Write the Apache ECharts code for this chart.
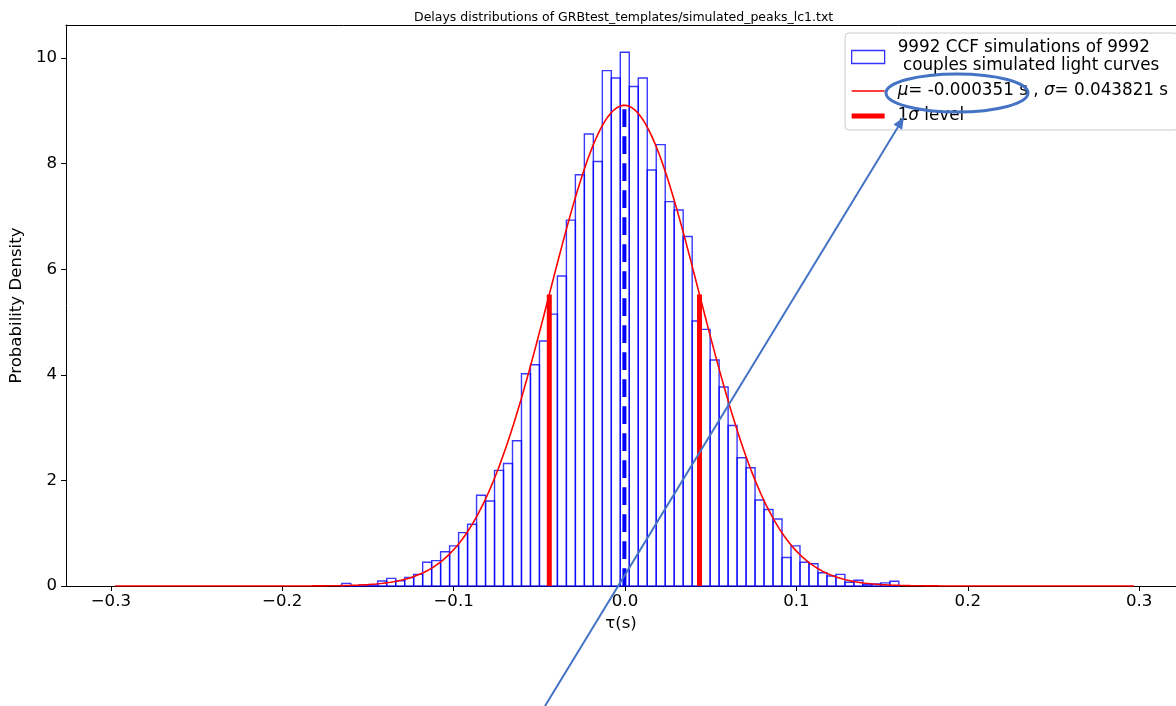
<!DOCTYPE html>
<html><head><meta charset="utf-8">
<script src="https://cdn.jsdelivr.net/npm/echarts@6/dist/echarts.min.js"></script>
<style>html,body{margin:0;padding:0;background:#fff}#c{width:1176px;height:706px}</style>
</head><body><div id="c"></div>
<script>
// ---- data ----
const titleText = 'Delays distributions of GRBtest_templates/simulated_peaks_lc1.txt';
const binStart = -0.16524;   // left edge of first histogram bin (s)
const binWidth = 0.005242;   // bin width (s)
const densities = [
  0.05, 0.0, 0.019, 0.019, 0.095, 0.145, 0.10, 0.16, 0.22, 0.45,
  0.48, 0.65, 0.76, 1.01, 1.17, 1.72, 1.61, 2.19, 2.32, 2.75,
  4.02, 4.19, 4.64, 5.15, 5.87, 6.93, 7.79, 8.56, 8.04, 9.76,
  9.62, 10.11, 9.46, 9.62, 7.88, 8.36, 7.28, 7.12, 6.62, 5.02,
  4.86, 4.28, 3.77, 3.04, 2.43, 2.24, 1.63, 1.45, 1.27, 0.54,
  0.76, 0.45, 0.42, 0.25, 0.19, 0.22, 0.07, 0.11, 0.025, 0.04,
  0.06, 0.09
];
const mu = -0.000351;
const sigma = 0.043821;
const curveRange = [-0.2975, 0.2970];
const curveSamples = 400;
const xTicks = [-0.3, -0.2, -0.1, 0.0, 0.1, 0.2, 0.3];
const yTicks = [0, 2, 4, 6, 8, 10];
const xRange = [-0.32615, 0.3215];
const yRange = [0, 10.625];
const histName = '9992 CCF simulations of 9992\n couples simulated light curves';
const fitName = 'μ= -0.000351 s , σ= 0.043821 s';
const sigName = '1σ level';
const xName = 'τ(s)';
const yName = 'Probability Density';

// ---- derived ----
const FONT = 'DejaVu Sans';
function pdf(x) { const z = (x - mu) / sigma; return Math.exp(-0.5 * z * z) / (sigma * Math.sqrt(2 * Math.PI)); }
const histData = densities.map((h, i) => [binStart + i * binWidth, binStart + (i + 1) * binWidth, h]);
const curveData = [];
for (let i = 0; i < curveSamples; i++) {
  const x = curveRange[0] + (curveRange[1] - curveRange[0]) * i / (curveSamples - 1);
  curveData.push([x, pdf(x)]);
}
const sigmaData = [[mu - sigma, pdf(mu - sigma)], [mu + sigma, pdf(mu + sigma)]];
const meanData = [[mu, 0], [mu, pdf(mu)]];

const chart = echarts.init(document.getElementById('c'), null, {renderer: 'canvas'});
const option = {
  animation: false,
  backgroundColor: '#ffffff',
  textStyle: {fontFamily: FONT},
  title: {
    text: titleText, left: 409, top: 6,
    textStyle: {fontFamily: FONT, fontSize: 12.5, fontWeight: 'normal', color: '#000'}
  },
  grid: {left: 64, top: 25, right: 0, bottom: 120, show: false, containLabel: false},
  xAxis: [{
    type: 'value', min: xRange[0], max: xRange[1], position: 'bottom',
    name: xName, nameLocation: 'middle', nameGap: 26,
    nameTextStyle: {fontFamily: FONT, fontSize: 16.6, color: '#000'},
    axisLine: {show: true, onZero: false, lineStyle: {color: '#000', width: 1}},
    axisTick: {show: true, length: 5, lineStyle: {color: '#000'}, customValues: xTicks},
    axisLabel: {show: true, margin: 7, color: '#000', fontFamily: FONT, fontSize: 16.6, customValues: xTicks,
      formatter: v => (v < 0 ? '\u2212' : '') + Math.abs(v).toFixed(1)},
    splitLine: {show: false}
  }, {
    type: 'value', min: xRange[0], max: xRange[1], position: 'top',
    axisLine: {show: true, onZero: false, lineStyle: {color: '#000', width: 1}},
    axisTick: {show: false}, axisLabel: {show: false}, splitLine: {show: false}
  }],
  yAxis: {
    type: 'value', min: yRange[0], max: yRange[1],
    name: yName, nameLocation: 'middle', nameGap: 27,
    nameTextStyle: {fontFamily: FONT, fontSize: 16.6, color: '#000'},
    axisLine: {show: true, onZero: false, lineStyle: {color: '#000', width: 1}},
    axisTick: {show: true, length: 5, lineStyle: {color: '#000'}, customValues: yTicks},
    axisLabel: {show: true, margin: 9, color: '#000', fontFamily: FONT, fontSize: 16.6, customValues: yTicks,
      formatter: v => String(Math.round(v))},
    splitLine: {show: false}
  },
  legend: {
    orient: 'vertical', left: 845, top: 33, padding: [6, 10, 5, 6],
    itemWidth: 33, itemHeight: 13, itemGap: 7,
    backgroundColor: 'rgba(255,255,255,0.8)', borderColor: '#cccccc', borderWidth: 1, borderRadius: 4,
    selectedMode: false,
    textStyle: {fontFamily: FONT, fontSize: 16.8, color: '#000', lineHeight: 18, padding: [0, 0, 0, 8],
      rich: {i: {fontStyle: 'italic', fontFamily: FONT, fontSize: 16.8, color: '#000', lineHeight: 18}}},
    formatter: name => name.replace(/μ/g, '{i|μ}').replace(/σ/g, '{i|σ}'),
    data: [
      {name: histName, icon: 'rect', itemStyle: {color: '#ffffff', borderColor: 'rgba(0,0,255,0.8)', borderWidth: 1.3}},
      {name: fitName, icon: 'path://M0,0L33,0L33,1.5L0,1.5Z', itemStyle: {color: '#ff0000', borderWidth: 0}},
      {name: sigName, icon: 'path://M0,0L33,0L33,5L0,5Z', itemStyle: {color: '#ff0000', borderWidth: 0}}
    ]
  },
  series: [
    {
      name: histName, type: 'custom', data: histData, encode: {x: [0, 1], y: 2},
      itemStyle: {color: '#ffffff', borderColor: 'rgba(0,0,255,0.8)'},
      renderItem: function (params, api) {
        const p0 = api.coord([api.value(0), api.value(2)]);
        const p1 = api.coord([api.value(1), 0]);
        return {type: 'rect', shape: {x: p0[0], y: p0[1], width: p1[0] - p0[0], height: p1[1] - p0[1]},
          style: {fill: 'none', stroke: 'rgba(0,0,255,0.78)', lineWidth: 1.4}};
      },
      z: 2
    },
    {
      name: fitName, type: 'line', data: curveData, showSymbol: false, symbol: 'none',
      lineStyle: {color: '#ff0000', width: 1.6}, itemStyle: {color: '#ff0000'}, z: 3
    },
    {
      name: 'mean', type: 'line', data: meanData, showSymbol: false, symbol: 'none',
      lineStyle: {color: '#0000ff', width: 4, type: [17.7, 9.3], cap: 'butt'}, z: 4
    },
    {
      name: sigName, type: 'custom', data: sigmaData, encode: {x: 0, y: 1},
      itemStyle: {color: '#ff0000'},
      renderItem: function (params, api) {
        const a = api.coord([api.value(0), 0]);
        const b = api.coord([api.value(0), api.value(1)]);
        return {type: 'line', shape: {x1: a[0], y1: a[1], x2: b[0], y2: b[1]},
          style: {stroke: '#ff0000', lineWidth: 5}};
      },
      z: 5
    }
  ],
  graphic: [
    {type: 'ellipse', shape: {cx: 957, cy: 93, rx: 71, ry: 19}, style: {fill: 'none', stroke: '#4472c4', lineWidth: 3}, z: 100},
    {type: 'line', shape: {x1: 545, y1: 706, x2: 898, y2: 127}, style: {stroke: '#4472c4', lineWidth: 2}, z: 100},
    {type: 'polygon', shape: {points: [[904, 117], [902.1, 129.8], [893.5, 124.6]]}, style: {fill: '#4472c4'}, z: 100}
  ]
};
chart.setOption(option);
</script>
</body></html>
